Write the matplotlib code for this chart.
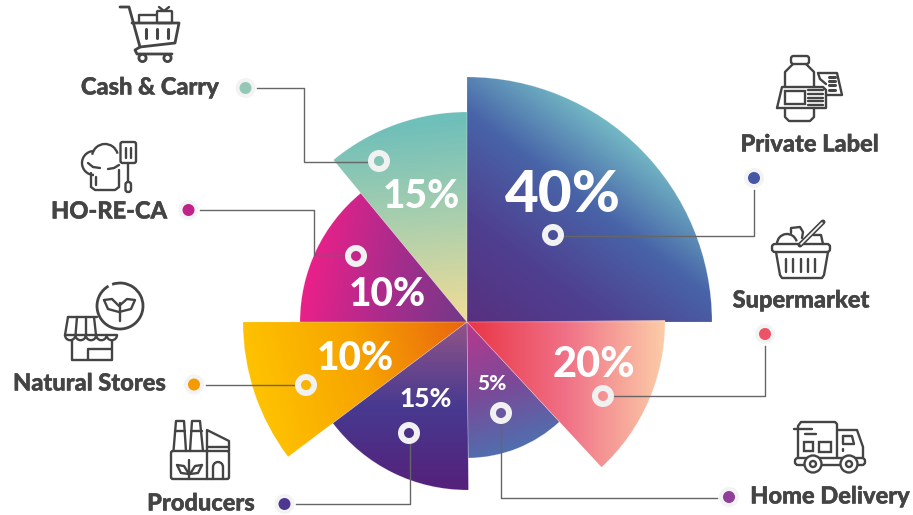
import numpy as np
import matplotlib
matplotlib.use("Agg")
import matplotlib.pyplot as plt
import matplotlib.patheffects as pe
from matplotlib.colors import LinearSegmentedColormap
from matplotlib.patches import Wedge, Circle, Arc, FancyBboxPatch, Rectangle

# slices, counter clockwise from east
categories = ["Private Label", "Cash & Carry", "HO-RE-CA", "Natural Stores", "Producers", "Home Delivery", "Supermarket"]
shares = [40, 15, 10, 10, 15, 5, 20]
sweeps = [90, 39.5, 50.5, 37, 53.5, 42.3, 47.7]
radii = [245, 210, 167, 224, 168, 136, 198]

# gradient colours per slice
grad_colors = [
    ["#58307f", "#4f3f90", "#4864a8", "#78c2c8"],
    ["#6fbfba", "#a9cfae", "#eadb98"],
    ["#ec2089", "#a92c8c", "#6f3a88"],
    ["#ffc400", "#f7a400", "#e9640f"],
    ["#925488", "#473a90", "#55207a"],
    ["#b8388f", "#7a4a98", "#4a74b2"],
    ["#ea3546", "#f07187", "#fccda8"],
]
grad_lines = [
    ((467, 322), (620, 120)),
    ((445, 120), (462, 310)),
    ((300, 300), (467, 330)),
    ((245, 380), (467, 322)),
    ((467, 322), (467, 490)),
    ((470, 322), (515, 458)),
    ((467, 330), (665, 330)),
]

# layout in pixels
center = (467, 322)
ring_xy = [(553, 235), (379, 161), (356, 256), (306, 385), (409, 433), (501, 413), (603, 396)]
dot_xy = [(754, 178), (245.5, 88), (188.5, 210), (194, 384.5), (284.5, 504), (729, 497), (765, 334)]
dot_colors = ["#4557a6", "#93c9b4", "#c1218b", "#f39a05", "#4d3791", "#8f3f9a", "#ee5266"]
connectors = [
    [(754, 190), (754, 235.5), (564, 235.5)],
    [(257, 88), (304, 88), (304, 162), (368, 162)],
    [(200, 210), (314, 210), (314, 255), (345, 255)],
    [(206, 384.5), (295, 384.5)],
    [(296, 504), (409.5, 504), (409.5, 444)],
    [(717, 497.5), (501, 497.5), (501, 424)],
    [(765, 346), (765, 396), (614, 396)],
]
share_xy = [(563, 196), (421, 196), (387, 295), (355, 359), (426, 399), (492, 383), (594, 365)]
share_size = [42, 28, 28, 28, 19, 15, 30]
label_xy = [(809.5, 144), (150, 87), (109, 211), (89.5, 383), (201, 503), (830, 496), (801, 300)]

INK = "#444444"

fig = plt.figure(figsize=(9.13, 5.15), dpi=100)
ax = fig.add_axes([0, 0, 1, 1])


def line(pts, lw=1.7, color=INK):
    xs, ys = zip(*pts)
    ax.plot(xs, ys, color=color, lw=lw, solid_capstyle="round", solid_joinstyle="round", zorder=6)


def circ(x, y, r, lw=1.7, fc="none"):
    ax.add_patch(Circle((x, y), r, fc=fc, ec=INK, lw=lw, zorder=6))


def arc(x, y, r, a1, a2, lw=1.7):
    ax.add_patch(Arc((x, y), 2 * r, 2 * r, theta1=a1, theta2=a2, ec=INK, lw=lw, zorder=6))


def rbox(x0, y0, x1, y1, pad=2, lw=1.7, fc="none"):
    ax.add_patch(FancyBboxPatch((x0 + pad, y0 + pad), x1 - x0 - 2 * pad, y1 - y0 - 2 * pad,
                                boxstyle="round,pad=%g" % pad, fc=fc, ec=INK, lw=lw, zorder=6))


def cart_icon():
    line([(120, 7), (129, 7), (140, 47), (135, 50), (137, 54), (172, 54)], lw=2)
    line([(132, 23), (179, 23), (175, 43), (140, 47)], lw=2)
    for x in (146, 157, 168):
        line([(x, 29), (x, 38)], lw=2.2)
    circ(142.5, 58, 3.6, lw=2, fc="white")
    circ(167.5, 58, 3.6, lw=2, fc="white")
    line([(139, 22), (139, 15), (156, 15)])
    rbox(157, 11, 172, 23, pad=1)
    line([(159, 7), (164, 11), (169, 7)])


def chef_icon():
    arc(94, 163, 12, 90, 270)
    arc(105, 157, 13, 190, 345)
    line([(91, 173), (91, 187), (95, 190), (115, 190), (119, 187), (119, 170)])
    line([(88, 163), (93, 167), (100, 168)])
    line([(108, 169), (114, 168), (119, 165)])
    line([(96, 177), (96, 185)])
    rbox(120.5, 142, 136, 163, pad=2)
    line([(126, 148), (126, 158)])
    line([(131, 148), (131, 158)])
    line([(128, 163), (128, 181)])
    rbox(125.5, 182, 131, 192, pad=2.5)


def store_icon():
    arc(120, 306, 23, 0, 240, lw=2)
    arc(120, 306, 23, 250, 360, lw=2)
    line([(104, 300), (112, 299), (119, 306), (127, 299), (135, 300), (131, 309), (119, 312), (108, 309), (104, 300)])
    line([(119.5, 303), (119.5, 321)])
    line([(68, 317), (97, 317)])
    line([(68, 317), (65, 335)])
    for x0, x1 in ((77, 75.5), (86, 86), (94, 96)):
        line([(x0, 317), (x1, 335)])
    for i in range(5):
        arc(70.2 + 10.4 * i, 335, 5.2, 0, 180)
    line([(65, 335), (117, 335)])
    line([(72, 341), (72, 360), (112, 360), (112, 341)])
    line([(88, 360), (88, 349), (111, 349)])


def factory_icon():
    line([(173.5, 451), (176, 421), (184, 421), (186, 451)])
    line([(174.5, 431), (185, 431)])
    line([(190, 451), (192, 421), (200, 421), (203, 451)])
    line([(191, 431), (202, 431)])
    rbox(171, 451, 229, 479, pad=2)
    line([(207, 479), (207, 430), (229, 441), (229, 451)])
    line([(207, 447), (229, 447)])
    line([(213, 479), (213, 467)])
    line([(223, 479), (223, 467)])
    arc(218, 467, 5, 180, 360)
    line([(189, 460), (189, 479)])
    line([(177, 465), (184, 466), (189, 474), (181, 473), (177, 465)])
    line([(202, 465), (195, 466), (190, 474), (198, 473), (202, 465)])


def label_icon():
    rbox(791, 56, 809, 64, pad=2.5)
    line([(793, 64), (785, 72), (785, 87)])
    line([(806, 64), (814, 72), (814, 87)])
    line([(785, 108), (785, 117), (789, 121), (810, 121), (814, 117), (814, 108)])
    line([(777, 108), (782, 87), (823, 87), (826, 90), (826, 108), (777, 108)])
    ax.add_patch(Rectangle((785, 90.5), 20, 13.5, fc="none", ec=INK, lw=1.7, zorder=6))
    for y in (90, 94, 97.5, 101, 104.5):
        line([(808, y), (823, y)], lw=1.7)
    line([(818, 73), (837, 73), (842, 95), (826, 95)])
    line([(818, 73), (820, 79), (826, 84)])
    for y in (77, 81, 85, 90):
        line([(829, y), (835, y)], lw=2.2)


def basket_icon():
    rbox(772, 244, 830, 252, pad=3)
    line([(776, 252), (780, 275), (782, 278), (822, 278), (824, 275), (828, 252)])
    for x in (786, 793, 801, 808, 815):
        line([(x, 259), (x, 272)])
    arc(787, 244, 10, 180, 345)
    line([(791, 233), (791, 228), (800, 227), (803, 232), (802, 238)])
    line([(813, 235), (821, 235), (823, 244)])
    line([(800, 245), (823, 222)], lw=3.6)
    line([(801, 244), (822, 223)], lw=1.2, color="white")


def truck_icon():
    line([(798, 429), (798, 426), (801, 422), (835, 422), (837, 424), (837, 457)])
    line([(798, 429), (798, 457)])
    line([(794, 429), (812, 429)])
    line([(805, 434), (816, 434)])
    ax.add_patch(Rectangle((804, 442), 9, 9, fc="none", ec=INK, lw=1.7, zorder=6))
    ax.add_patch(Rectangle((819, 442), 12, 10, fc="none", ec=INK, lw=1.7, zorder=6))
    line([(838, 430), (857, 430), (863, 447), (863, 457)])
    line([(843, 436), (852, 436), (854, 444), (843, 444), (843, 436)])
    line([(843, 449), (843, 451)])
    rbox(795, 458, 865, 465, pad=3)
    circ(813, 464, 8.5, fc="white")
    circ(813, 464, 3)
    circ(849, 464, 8.5, fc="white")
    circ(849, 464, 3)


# slices with gradient fills
yy, xx = np.mgrid[0:515, 0:913]
edges = np.concatenate([[0], np.cumsum(sweeps)])
for i in range(len(shares)):
    (x0, y0), (x1, y1) = grad_lines[i]
    dx, dy = x1 - x0, y1 - y0
    t = ((xx - x0) * dx + (yy - y0) * dy) / (dx * dx + dy * dy)
    cmap = LinearSegmentedColormap.from_list("g%d" % i, grad_colors[i])
    # y axis points down, so angles are negated
    w = Wedge(center, radii[i], -edges[i + 1], -edges[i], fc="none", ec="none")
    ax.add_patch(w)
    im = ax.imshow(np.clip(t, 0, 1), cmap=cmap, vmin=0, vmax=1, extent=(0, 913, 515, 0),
                   aspect="auto", interpolation="bilinear", zorder=1)
    im.set_clip_path(w)
    ax.add_patch(Wedge(center, radii[i], -edges[i + 1], -edges[i], fc="none", ec="white",
                       lw=0.4, alpha=0.3, zorder=2))

# connectors, rings, dots
for pts in connectors:
    xs, ys = zip(*pts)
    ax.plot(xs, ys, color="#666666", lw=1.0, zorder=3)
for (x, y) in ring_xy:
    ax.add_patch(Wedge((x, y), 11, 0, 360, width=6, fc="#f1f1f1", ec="none", zorder=4))
for (x, y), c in zip(dot_xy, dot_colors):
    ax.add_patch(Circle((x, y), 10, fc="#f3f3f3", ec="none", zorder=4))
    ax.add_patch(Circle((x, y), 6, fc=c, ec="none", zorder=5))

# text
for s, (x, y), fs in zip(shares, share_xy, share_size):
    ax.text(x, y, "%d%%" % s, color="white", fontsize=fs, fontweight="black", family="Lato",
            ha="center", va="center", zorder=7)
for name, (x, y) in zip(categories, label_xy):
    ax.text(x, y, name, color=INK, fontsize=17, fontweight="black", family="Lato",
            ha="center", va="center", zorder=7,
            path_effects=[pe.withStroke(linewidth=0.3, foreground=INK)])

cart_icon()
chef_icon()
store_icon()
factory_icon()
label_icon()
basket_icon()
truck_icon()

ax.set_xlim(0, 913)
ax.set_ylim(515, 0)
ax.axis("off")
fig.savefig("out.png", dpi=100)
